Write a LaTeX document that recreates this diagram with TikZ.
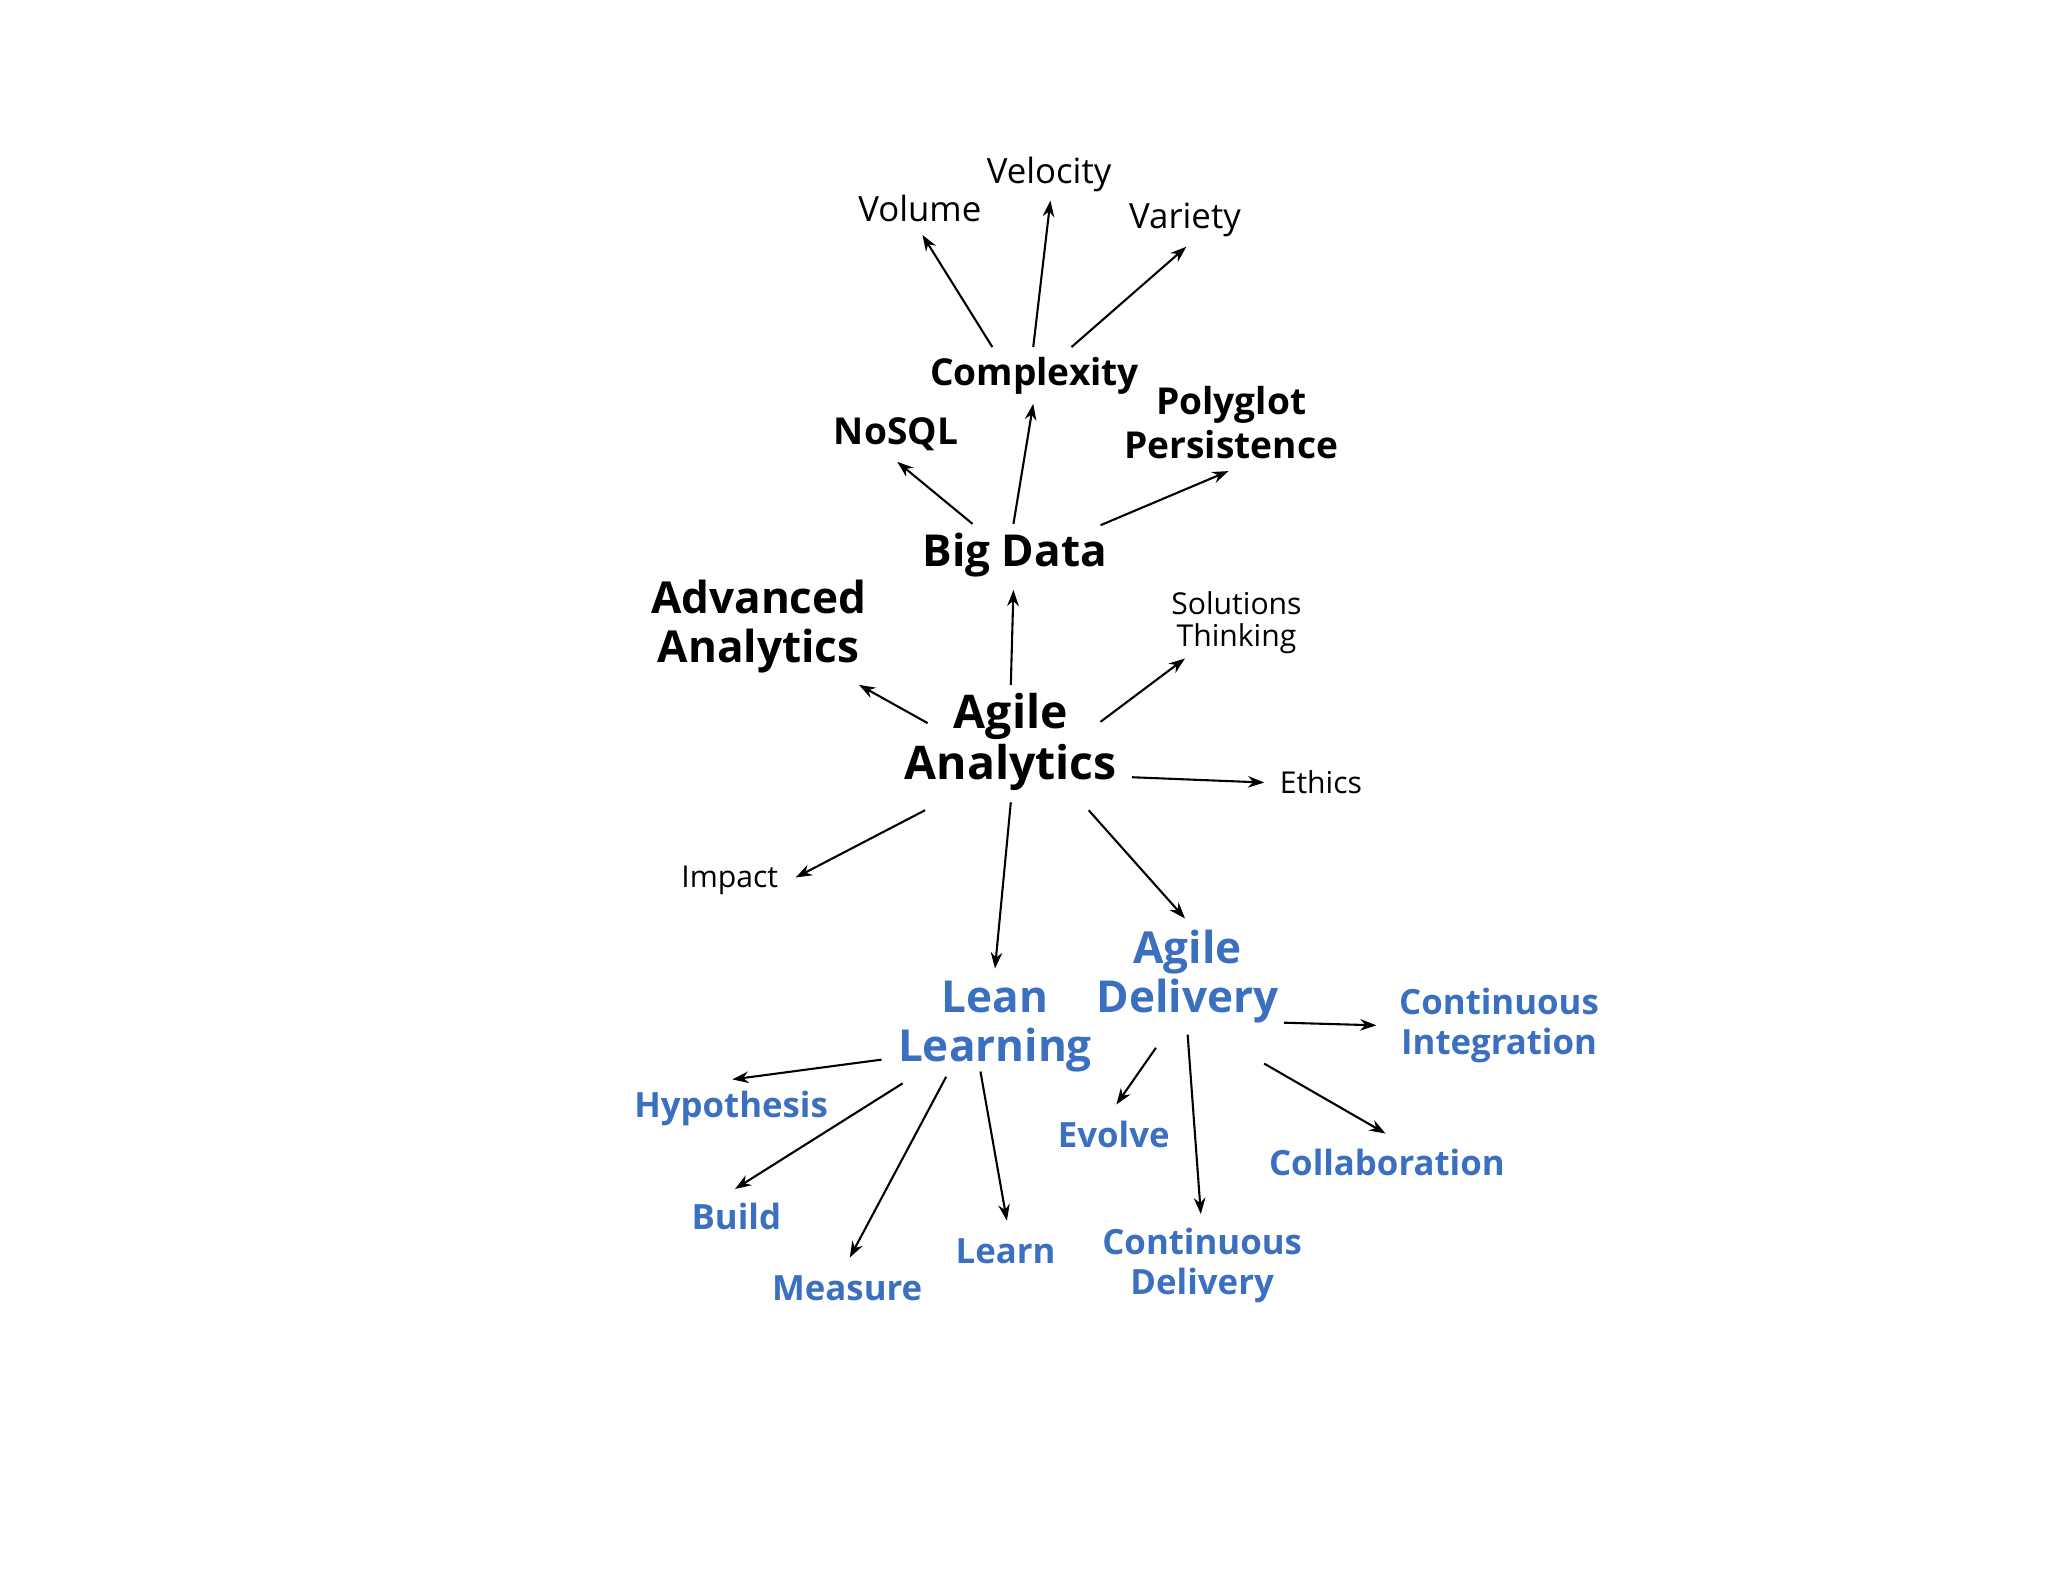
\documentclass[tikz,border=0pt]{standalone}
\usepackage{fontspec}
\setmainfont{Open Sans}
\usetikzlibrary{arrows.meta}
\definecolor{bl}{HTML}{3A70BF}
\begin{document}
\begin{tikzpicture}[x=0.02cm,y=-0.02cm,
  arr/.style={-{Stealth[length=7pt,width=5pt]},line width=0.9pt},
  lab/.style={font=\fontsize{15}{17}\selectfont,align=center,inner sep=0pt},
  sm/.style={font=\fontsize{13}{14}\selectfont,align=center,inner sep=0pt},
  hd/.style={font=\fontsize{16}{19}\selectfont\bfseries,align=center,inner sep=0pt},
  big/.style={font=\fontsize{19}{21}\selectfont\bfseries,align=center,inner sep=0pt},
  bb/.style={font=\fontsize{19}{21}\selectfont\bfseries,text=bl,align=center,inner sep=0pt},
  bs/.style={font=\fontsize{15}{17}\selectfont\bfseries,text=bl,align=center,inner sep=0pt}]
\path[use as bounding box,fill=white] (0,0) rectangle (1552,1200);
\node[lab] (vol) at (697,158) {Volume};
\node[lab] (vel) at (795,132) {Velocity};
\node[lab] (var) at (898,167) {Variety};
\node[hd] (cx) at (784,285) {Complexity};
\node[hd] (nosql) at (679,329) {NoSQL};
\node[hd] (poly) at (933,320) {Polyglot\\Persistence};
\node[big] (bd) at (769,421) {Big Data};
\node[big] (adv) at (575,475) {Advanced\\Analytics};
\node[sm] (sol) at (937,472) {Solutions\\Thinking};
\node[font=\fontsize{20}{22}\selectfont\bfseries,align=center,inner sep=0pt] (aa) at (766,562) {Agile\\Analytics};
\node[sm] (eth) at (1001,593) {Ethics};
\node[sm] (imp) at (553,667) {Impact};
\node[bb] (ll) at (754,778) {Lean\\Learning};
\node[bb] (ad) at (900,740) {Agile\\Delivery};
\node[bs] (ci) at (1136,777) {Continuous\\Integration};
\node[bs] (hyp) at (554,840) {Hypothesis};
\node[bs] (bui) at (558,922) {Build};
\node[bs] (mea) at (642,976) {Measure};
\node[bs] (lea) at (762,948) {Learn};
\node[bs] (evo) at (844,860) {Evolve};
\node[bs] (cd) at (911,959) {Continuous\\Delivery};
\node[bs] (col) at (1051,881) {Collaboration};
\foreach \n/\ax/\ay/\bx/\by in {
 c1/752/263/699/178, c2/783/263/796/152, c3/812/263/899/187,
 b1/768/397/783/306, b2/737/397/680/350, b3/834/398/931/357,
 a1/766/519/768/447, a2/703/548/651/519, a3/834/547/898/499, a4/858/589/958/593,
 a5/701/614/603/665, a6/766/608/754/734, a7/825/614/898/696,
 l1/668/803/555/818, l2/684/821/557/901, l3/717/816/644/953, l4/743/812/763/925,
 d1/876/794/846/837, d2/900/784/910/920, d3/958/806/1050/859, d4/973/775/1043/777}
 {\coordinate (\n s) at (\ax,\ay); \coordinate (\n e) at (\bx,\by); \draw[arr] (\n s) -- (\n e);}
\end{tikzpicture}
\end{document}
